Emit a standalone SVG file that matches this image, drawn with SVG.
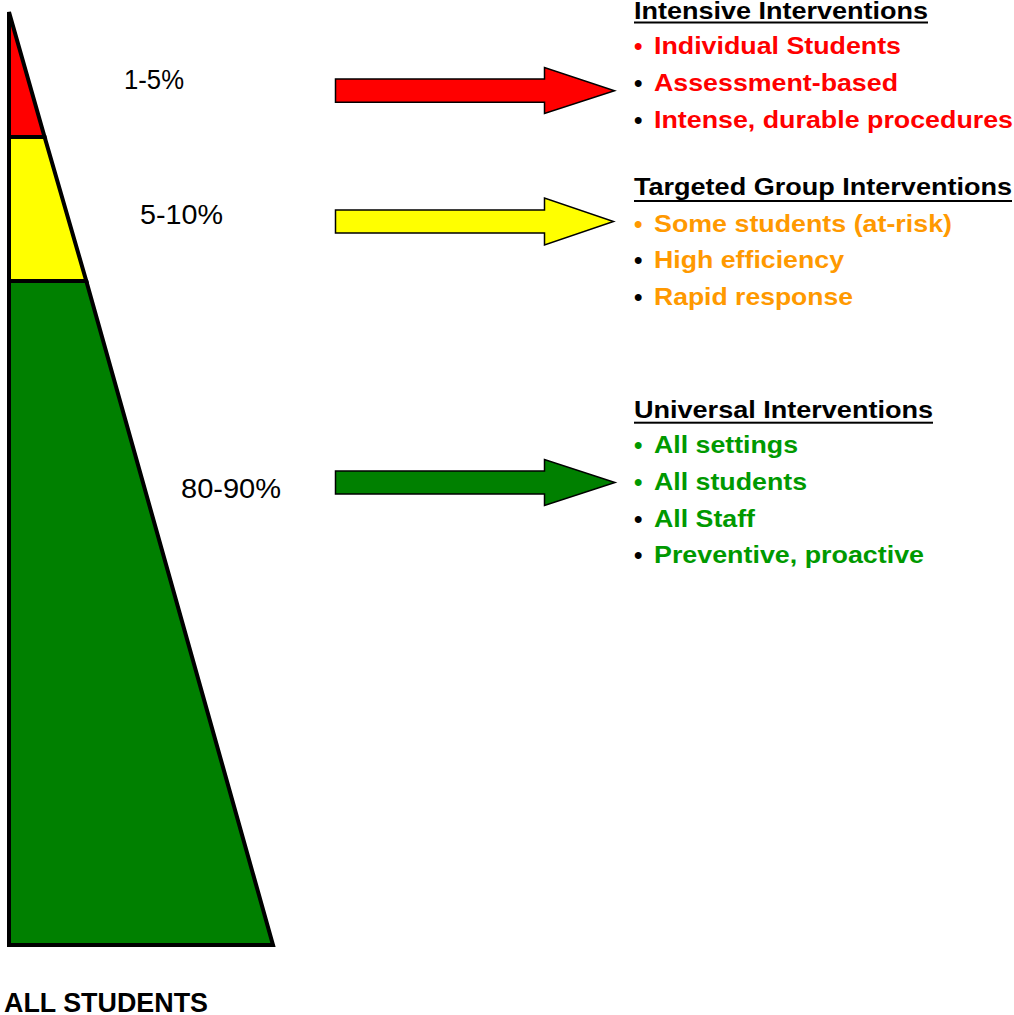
<svg xmlns="http://www.w3.org/2000/svg" width="1014" height="1015" viewBox="0 0 1014 1015">
<style>
.tier{stroke:#000;stroke-width:4;stroke-linejoin:miter}
.arrow{stroke:#000;stroke-width:1.5;stroke-linejoin:miter}
.pct{font-family:"Liberation Sans",Arial,sans-serif;font-size:28px;fill:#000}
.hd{font-family:"Liberation Sans",Arial,sans-serif;font-size:24px;font-weight:bold;fill:#000}
.it{font-family:"Liberation Sans",Arial,sans-serif;font-size:24px;font-weight:bold}
.bl{font-family:"Liberation Sans",Arial,sans-serif;font-size:24px;font-weight:bold}
.red{fill:#FF0000}.org{fill:#FF9900}.grn{fill:#009900}.blk{fill:#000}
</style>
<rect width="1014" height="1015" fill="#fff"/>
<g id="pyramid">
  <g id="tier-green"><polygon class="tier" fill="#008000" points="9,281 86.3,281 273,945 9,945"/></g>
  <g id="tier-yellow"><polygon class="tier" fill="#FFFF00" points="9,137 44.6,137 86.3,281 9,281"/></g>
  <g id="tier-red"><polygon class="tier" fill="#FF0000" points="9,12 44.6,137 9,137"/></g>
</g>
<g id="labels">
  <text class="pct" x="124" y="89" textLength="60" lengthAdjust="spacingAndGlyphs" style="font-size:27px">1-5%</text>
  <text class="pct" x="140" y="224" textLength="83" lengthAdjust="spacingAndGlyphs">5-10%</text>
  <text class="pct" x="181" y="498" textLength="100" lengthAdjust="spacingAndGlyphs">80-90%</text>
  <text class="hd" x="4" y="1012" textLength="204" lengthAdjust="spacingAndGlyphs" style="font-size:27px">ALL STUDENTS</text>
</g>
<g id="connectors">
  <polygon class="arrow" fill="#FF0000" points="335.5,79 544.5,79 544.5,67.5 614.5,90.7 544.5,113.5 544.5,102.3 335.5,102.3"/>
  <polygon class="arrow" fill="#FFFF00" points="335.5,210 544.5,210 544.5,198 613.5,221.5 544.5,245 544.5,233 335.5,233"/>
  <polygon class="arrow" fill="#008000" points="335.5,471 544.5,471 544.5,459.5 615,482.5 544.5,505.5 544.5,494 335.5,494"/>
</g>
<g id="intensive">
  <text class="hd" x="634" y="18.5" textLength="294" lengthAdjust="spacingAndGlyphs">Intensive Interventions</text>
  <rect x="634" y="21.5" width="294" height="2" fill="#000"/>
  <text class="bl red" x="634" y="54">•</text>
  <text class="it red" x="654" y="54" textLength="247" lengthAdjust="spacingAndGlyphs">Individual Students</text>
  <text class="bl blk" x="634" y="90.7">•</text>
  <text class="it red" x="654" y="90.7" textLength="244" lengthAdjust="spacingAndGlyphs">Assessment-based</text>
  <text class="bl blk" x="634" y="127.5">•</text>
  <text class="it red" x="654" y="127.5" textLength="359" lengthAdjust="spacingAndGlyphs">Intense, durable procedures</text>
</g>
<g id="targeted">
  <text class="hd" x="634" y="195.3" textLength="378" lengthAdjust="spacingAndGlyphs">Targeted Group Interventions</text>
  <rect x="634" y="200" width="378" height="2" fill="#000"/>
  <text class="bl org" x="634" y="231.7">•</text>
  <text class="it org" x="654" y="231.7" textLength="298" lengthAdjust="spacingAndGlyphs">Some students (at-risk)</text>
  <text class="bl blk" x="634" y="268.3">•</text>
  <text class="it org" x="654" y="268.3" textLength="190" lengthAdjust="spacingAndGlyphs">High efficiency</text>
  <text class="bl blk" x="634" y="305">•</text>
  <text class="it org" x="654" y="305" textLength="199" lengthAdjust="spacingAndGlyphs">Rapid response</text>
</g>
<g id="universal">
  <text class="hd" x="634" y="418.3" textLength="299" lengthAdjust="spacingAndGlyphs">Universal Interventions</text>
  <rect x="634" y="421.7" width="299" height="2" fill="#000"/>
  <text class="bl grn" x="634" y="453.3">•</text>
  <text class="it grn" x="654" y="453.3" textLength="144" lengthAdjust="spacingAndGlyphs">All settings</text>
  <text class="bl grn" x="634" y="490">•</text>
  <text class="it grn" x="654" y="490" textLength="153" lengthAdjust="spacingAndGlyphs">All students</text>
  <text class="bl blk" x="634" y="526.7">•</text>
  <text class="it grn" x="654" y="526.7" textLength="101" lengthAdjust="spacingAndGlyphs">All Staff</text>
  <text class="bl blk" x="634" y="563.3">•</text>
  <text class="it grn" x="654" y="563.3" textLength="270" lengthAdjust="spacingAndGlyphs">Preventive, proactive</text>
</g>
</svg>
